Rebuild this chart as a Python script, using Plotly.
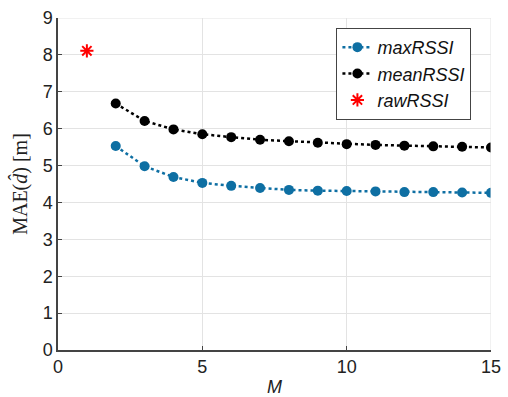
import plotly.graph_objects as go

M = list(range(2, 16))
max_rssi = [5.53, 4.98, 4.69, 4.53, 4.45, 4.39, 4.34, 4.32, 4.31, 4.30, 4.28, 4.28, 4.27, 4.26]
mean_rssi = [6.68, 6.21, 5.98, 5.85, 5.77, 5.70, 5.66, 5.62, 5.58, 5.56, 5.54, 5.52, 5.51, 5.49]
raw_M = [1]
raw_rssi = [8.11]

fig = go.Figure()
fig.add_trace(go.Scatter(x=M, y=max_rssi, name="<i>maxRSSI</i>", mode="lines+markers",
                         line=dict(color="#0e6fa3", width=2.5, dash="dot"),
                         marker=dict(symbol="circle", size=10, color="#0e6fa3")))
fig.add_trace(go.Scatter(x=M, y=mean_rssi, name="<i>meanRSSI</i>", mode="lines+markers",
                         line=dict(color="black", width=2.5, dash="dot"),
                         marker=dict(symbol="circle", size=10, color="black")))
fig.add_trace(go.Scatter(x=raw_M, y=raw_rssi, name="<i>rawRSSI</i>", mode="markers",
                         marker=dict(symbol="asterisk", size=11, color="red",
                                     line=dict(color="red", width=2))))

axis_common = dict(showgrid=True, gridcolor="#e3e3e3", gridwidth=1, zeroline=False,
                   showline=True, linecolor="#444444", linewidth=1.5,
                   ticks="inside", ticklen=4, tickcolor="#444444", automargin=False,
                   tickfont=dict(family="Liberation Sans, Arial", size=18, color="#222222"))

fig.update_xaxes(range=[0, 15], tickvals=[0, 5, 10, 15],
                 title=dict(text="<i>M</i>", font=dict(family="Liberation Sans, Arial", size=18, color="#222222"),
                            standoff=6),
                 **axis_common)
fig.update_yaxes(range=[0, 9], tickvals=list(range(0, 10)),
                 title=dict(text="MAE(<i>d̂</i>) [m]", font=dict(family="Liberation Serif, DejaVu Serif", size=20, color="#222222"),
                            standoff=10),
                 **axis_common)

fig.add_shape(type="line", xref="x", yref="y", x0=0, x1=15, y0=9, y1=9, line=dict(color="#e3e3e3", width=1))
fig.add_shape(type="line", xref="x", yref="y", x0=15, x1=15, y0=0, y1=9, line=dict(color="#e3e3e3", width=1))

fig.update_layout(
    width=508, height=397,
    margin=dict(l=58, r=17, t=18, b=47),
    plot_bgcolor="white", paper_bgcolor="white",
    legend=dict(x=0.643, y=0.97, xanchor="left", yanchor="top",
                bgcolor="white", bordercolor="#444444", borderwidth=1,
                font=dict(family="Liberation Sans, Arial", size=18, color="#111111"),
                tracegroupgap=0, itemwidth=30),
    showlegend=True,
)

fig.write_html("out.html")
